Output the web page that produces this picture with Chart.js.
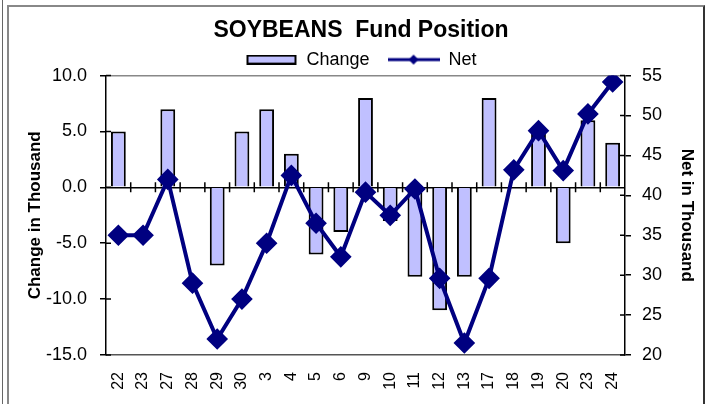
<!DOCTYPE html>
<html>
<head>
<meta charset="utf-8">
<script src="https://cdn.jsdelivr.net/npm/chart.js@4/dist/chart.umd.min.js"></script>
<style>
body { margin: 0; background: #fff; }
#wrap { position: relative; width: 712px; height: 404px; overflow: hidden; }
#frame { position: absolute; left: 7px; top: 5px; width: 694px; height: 404px;
  border-top: 2px solid #888; border-left: 2px solid #888; border-right: 2px solid #333; }
#edge { position: absolute; left: 2px; top: 0; width: 1px; height: 404px; background: #666; }
canvas { position: absolute; left: 0; top: 0; }
</style>
</head>
<body>
<div id="wrap">
  <div id="edge"></div>
  <div id="frame"></div>
  <canvas id="myChart" width="712" height="404"></canvas>
</div>
<script>
var weeks = ["22", "23", "27", "28", "29", "30", "3", "4", "5", "6", "9", "10", "11", "12", "13", "17", "18", "19", "20", "23", "24"];
var changeValues = [5, null, 7, null, -7, 5, 7, 3, -6, -4, 8, -3, -8, -11, -8, 8, null, 5, -5, 6, 4];
var netValues = [35, 35, 42, 29, 22, 27, 34, 42.5, 36.5, 32.3, 40.4, 37.5, 40.8, 29.6, 21.5, 29.6, 43.2, 48.1, 43.1, 50.2, 54.2];
var changeTicks = [-15, -10, -5, 0, 5, 10];
var netTicks = [20, 25, 30, 35, 40, 45, 50, 55];

var barFill = "#c0c0ff";
var navy = "#000080";
var fontName = "'Liberation Sans', Arial, sans-serif";

// little pictures for the legend
function changeSwatch() {
  var c = document.createElement("canvas");
  c.width = 52; c.height = 10;
  var g = c.getContext("2d");
  g.fillStyle = barFill;
  g.fillRect(2, 1, 48, 8);
  g.strokeStyle = "#000";
  g.lineWidth = 2;
  g.strokeRect(2, 1, 48, 8);
  return c;
}
function netSwatch() {
  var c = document.createElement("canvas");
  c.width = 52; c.height = 14;
  var g = c.getContext("2d");
  g.strokeStyle = navy;
  g.lineWidth = 3;
  g.beginPath(); g.moveTo(0, 7); g.lineTo(52, 7); g.stroke();
  g.fillStyle = navy;
  g.beginPath(); g.moveTo(26, 2); g.lineTo(31, 7); g.lineTo(26, 12); g.lineTo(21, 7); g.closePath(); g.fill();
  return c;
}

// legend box a bit shorter so the plot starts where it does in the picture
var legendTrim = {
  id: "legendTrim",
  beforeLayout: function (chart) {
    var lg = chart.legend;
    if (lg && !lg._trimmed) {
      var fit = lg.fit;
      lg.fit = function () { fit.call(this); this.height -= 3; };
      lg._trimmed = true;
    }
  }
};

var axisMarks = {
  id: "axisMarks",
  afterDatasetsDraw: function (chart) {
    var ctx = chart.ctx;
    var x = chart.scales.x, y = chart.scales.y, y1 = chart.scales.y1;
    var zeroY = y.getPixelForValue(0);
    ctx.save();
    ctx.strokeStyle = "#000";
    ctx.lineWidth = 1.5;
    ctx.beginPath();
    for (var i = 0; i < weeks.length - 1; i++) {
      var bx = (x.getPixelForValue(i) + x.getPixelForValue(i + 1)) / 2;
      ctx.moveTo(bx, zeroY - 5);
      ctx.lineTo(bx, zeroY + 5);
    }
    changeTicks.forEach(function (v) {
      var py = y.getPixelForValue(v);
      ctx.moveTo(y.right, py);
      ctx.lineTo(y.right + 5, py);
    });
    netTicks.forEach(function (v) {
      var py = y1.getPixelForValue(v);
      ctx.moveTo(y1.left - 5, py);
      ctx.lineTo(y1.left, py);
    });
    ctx.stroke();
    ctx.restore();
  }
};

new Chart("myChart", {
  type: "bar",
  data: {
    labels: weeks,
    datasets: [{
      type: "bar",
      label: "Change",
      data: changeValues,
      yAxisID: "y",
      backgroundColor: barFill,
      borderColor: "#000",
      borderWidth: 2,
      categoryPercentage: 1,
      barPercentage: 0.6,
      order: 1
    }, {
      type: "line",
      label: "Net",
      data: netValues,
      yAxisID: "y1",
      borderColor: navy,
      backgroundColor: navy,
      borderWidth: 4,
      pointStyle: "rectRot",
      pointRadius: 8,
      pointBackgroundColor: navy,
      pointBorderColor: navy,
      tension: 0,
      order: 0
    }]
  },
  plugins: [legendTrim, axisMarks],
  options: {
    responsive: false,
    animation: false,
    layout: { padding: { left: 21, right: 11, top: 0, bottom: 0 } },
    plugins: {
      tooltip: { enabled: false },
      title: {
        display: true,
        text: "SOYBEANS  Fund Position",
        color: "#000",
        font: { family: fontName, size: 23, weight: "bold" },
        padding: { top: 17, bottom: -12 }
      },
      legend: {
        labels: {
          usePointStyle: true,
          pointStyleWidth: 52,
          padding: 18,
          color: "#000",
          font: { family: fontName, size: 18 },
          generateLabels: function () {
            return [
              { text: "Change", pointStyle: changeSwatch(), lineWidth: 0, hidden: false, datasetIndex: 0 },
              { text: "Net", pointStyle: netSwatch(), lineWidth: 0, hidden: false, datasetIndex: 1 }
            ];
          }
        }
      }
    },
    scales: {
      x: {
        grid: { display: false },
        border: { display: true, color: "#555", width: 1.5 },
        ticks: {
          color: "#000",
          font: { family: fontName, size: 16 },
          minRotation: 90,
          maxRotation: 90,
          autoSkip: false,
          padding: 9
        },
        afterFit: function (s) { s.height = 49; }
      },
      y: {
        position: "left",
        min: -15,
        max: 10,
        afterBuildTicks: function (s) { s.ticks = changeTicks.map(function (v) { return { value: v }; }); },
        ticks: {
          color: "#000",
          font: { family: fontName, size: 18 },
          padding: 13,
          callback: function (v) { return Number(v).toFixed(1); }
        },
        grid: {
          color: function (c) {
            if (c.tick && c.tick.value === 0) return "#000";
            if (c.tick && c.tick.value === 10) return "#888";
            return "rgba(0,0,0,0)";
          },
          lineWidth: 1.5,
          tickColor: "#000",
          tickLength: 6
        },
        border: { color: "#000", width: 1.5 },
        title: {
          display: true,
          text: "Change in Thousand",
          color: "#000",
          font: { family: fontName, size: 17, weight: "bold" }
        },
        afterFit: function (s) { s.width = 85; }
      },
      y1: {
        position: "right",
        min: 20,
        max: 55,
        afterBuildTicks: function (s) { s.ticks = netTicks.map(function (v) { return { value: v }; }); },
        ticks: {
          color: "#000",
          font: { family: fontName, size: 18 },
          padding: 11
        },
        grid: { drawOnChartArea: false, tickColor: "#000", tickLength: 6, lineWidth: 1.5 },
        border: { color: "#000", width: 1.5 },
        title: {
          display: true,
          text: "Net in Thousand",
          color: "#000",
          font: { family: fontName, size: 17, weight: "bold" }
        },
        afterFit: function (s) { s.width = 76; }
      }
    }
  }
});
</script>
</body>
</html>
